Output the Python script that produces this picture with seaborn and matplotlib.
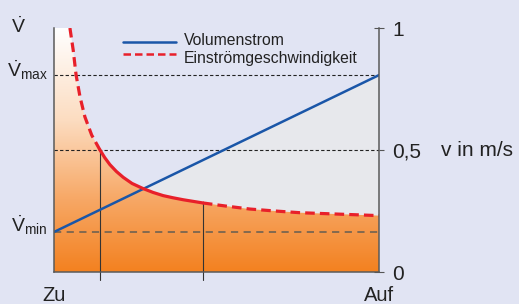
import numpy as np
import pandas as pd
import matplotlib
matplotlib.use("Agg")
import matplotlib.pyplot as plt
import seaborn as sns
from matplotlib.colors import LinearSegmentedColormap


# ==========================
# DATA
# ==========================

# valve opening: 0 = Zu, 1 = Auf
flow_x = [0.0, 1.0]
flow_y = [0.164, 0.807]

speed_x = [0.049, 0.059, 0.068, 0.080, 0.095, 0.116, 0.1415, 0.156, 0.172,
           0.192, 0.213, 0.240, 0.274, 0.305, 0.336, 0.367, 0.398, 0.458,
           0.530, 0.603, 0.680, 0.757, 0.880, 1.0]
speed_y = [1.0, 0.91, 0.807, 0.718, 0.636, 0.561, 0.5, 0.469, 0.440,
           0.412, 0.388, 0.363, 0.342, 0.326, 0.313, 0.304, 0.296, 0.283,
           0.270, 0.258, 0.250, 0.243, 0.237, 0.231]

v_max = 0.807
v_min = 0.164
v_mid = 0.5
marks_x = [0.1415, 0.458]      # vertical markers, solid part of the curve
marks_top = [0.5, 0.283]

right_ticks = [0, 0.5, 1]
right_labels = ["0", "0,5", "1"]

legend_labels = ["Volumenstrom", "Einströmgeschwindigkeit"]


# ==========================
# STYLE
# ==========================

sns.set_style("white")
plt.rcParams["font.family"] = ["Liberation Sans", "DejaVu Sans"]
plt.rcParams["mathtext.fontset"] = "custom"
plt.rcParams["mathtext.rm"] = "Liberation Sans"
plt.rcParams["mathtext.it"] = "Liberation Sans"

BG = "#e1e4f3"
GREY = "#e7e8ec"
BLUE = "#1a56a8"
RED = "#e8202a"
TXT = "#222222"

W, H = 519, 304
fig = plt.figure(figsize=(W / 100, H / 100), dpi=100, facecolor=BG)
ax = fig.add_axes([54 / W, 32 / H, 325 / W, 244 / H])
ax.set_facecolor(BG)
ax.set_xlim(0, 1)
ax.set_ylim(0, 1)


# ==========================
# FILLS
# ==========================

sx = np.array(speed_x)
sy = np.array(speed_y)
blue_on_s = np.interp(sx, flow_x, flow_y)

# grey area between curve and flow line
ax.fill_between(sx, sy, blue_on_s, where=blue_on_s > sy, interpolate=True,
                color=GREY, lw=0, zorder=1)

# gradient under the speed curve
fx = np.concatenate([[0.0], sx])
fy = np.concatenate([[1.0], sy])
poly = ax.fill_between(fx, 0, fy, color="none", lw=0)
cmap = LinearSegmentedColormap.from_list(
    "peach", [(0.0, "#f38120"), (0.3, "#f7a866"), (0.62, "#fcdcc0"), (1.0, "#ffffff")])
grad = np.linspace(0, 1, 256).reshape(-1, 1)
img = ax.imshow(grad, extent=[0, 1, 0, 1], origin="lower", aspect="auto",
                cmap=cmap, zorder=1.5)
img.set_clip_path(poly.get_paths()[0], transform=ax.transData)


# ==========================
# REFERENCE LINES
# ==========================

ax.axhline(v_max, color="#222222", lw=0.8, ls=(0, (3, 2)), zorder=2)
ax.axhline(v_mid, color="#222222", lw=0.8, ls=(0, (3, 2)), zorder=2)
ax.axhline(v_min, color="#7a6650", lw=1.3, ls=(0, (4, 3)), zorder=2)

for mx, mt in zip(marks_x, marks_top):
    ax.plot([mx, mx], [-0.033, mt], color="#333333", lw=0.8, zorder=2,
            clip_on=False)


# ==========================
# CURVES
# ==========================

df_flow = pd.DataFrame({"x": flow_x, "y": flow_y})
sns.lineplot(data=df_flow, x="x", y="y", color=BLUE, lw=1.8, ax=ax, zorder=4)

lo, hi = marks_x
seg_a = (sx <= lo)
seg_b = (sx >= lo) & (sx <= hi)
seg_c = (sx >= hi)
for seg, style in [(seg_a, (0, (3, 1.6))), (seg_b, "-"), (seg_c, (0, (3, 1.6)))]:
    sns.lineplot(x=sx[seg], y=sy[seg], color=RED, lw=2.3, ls=style,
                 ax=ax, zorder=5, sort=False, solid_joinstyle="round")


# ==========================
# AXES
# ==========================

ax.spines["top"].set_visible(False)
for s in ["left", "right", "bottom"]:
    ax.spines[s].set_color("#5a5a5a")
    ax.spines[s].set_linewidth(1.1)
    ax.spines[s].set_zorder(6)

ax.set_xticks([0, 1])
ax.set_xticklabels(["Zu", "Auf"], fontsize=14.5, color=TXT)
ax.tick_params(axis="x", length=3, width=0.8, color="#555555", pad=7)
ax.set_xlabel("")
ax.set_ylabel("")

ax.yaxis.tick_right()
ax.set_yticks(right_ticks)
ax.set_yticklabels(right_labels, fontsize=15, color=TXT)
ax.tick_params(axis="y", length=7, width=0.8, color="#555555", pad=6,
               direction="inout", left=False, right=True)

# left side labels
ax.text(-0.108, 0.98, r"$\dot{\mathrm{V}}$", transform=ax.transAxes,
        fontsize=14, ha="center", va="baseline", color=TXT)
ax.text(-0.02, 0.799, r"$\dot{\mathrm{V}}_{\mathrm{max}}$", transform=ax.transAxes,
        fontsize=14, ha="right", va="baseline", color=TXT)
ax.text(-0.02, v_min, r"$\dot{\mathrm{V}}_{\mathrm{min}}$", transform=ax.transAxes,
        fontsize=14, ha="right", va="baseline", color=TXT)

ax.text(1.191, 0.5, "v in m/s", transform=ax.transAxes, fontsize=15,
        ha="left", va="center", color=TXT)

# legend, drawn by hand to keep the handles tight
for py, col, style, label, base in [(41.7, BLUE, "-", legend_labels[0], 45),
                                    (54.0, RED, (0, (3, 1.6)), legend_labels[1], 62.7)]:
    fig.add_artist(plt.Line2D([123 / W, 176 / W], [1 - py / H, 1 - py / H],
                              color=col, lw=1.8, ls=style))
    fig.text(184 / W, 1 - base / H, label, fontsize=11.3, color=TXT,
             ha="left", va="baseline")

fig.savefig("out.png", dpi=100, facecolor=BG)
